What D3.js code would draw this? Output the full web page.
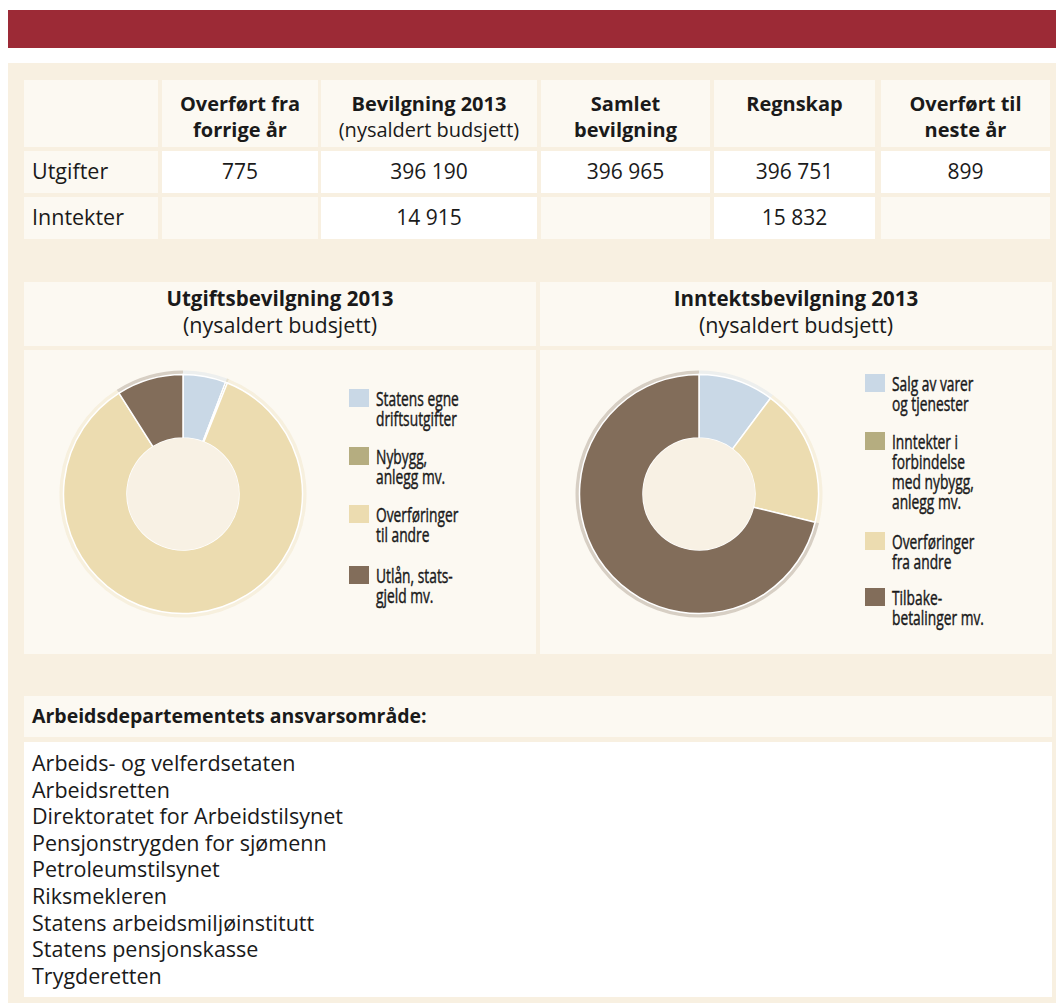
<!DOCTYPE html>
<html>
<head>
<meta charset="utf-8">
<script src="https://cdn.jsdelivr.net/npm/d3@7"></script>
<style>
  body { margin: 0; background: #fff; }
  svg text { fill: #1a1a1a; }
</style>
</head>
<body>
<svg id="chart" width="1056" height="1005"></svg>
<script>
// table data
var colHeads = [[], ["Overført fra", "forrige år"], ["Bevilgning 2013", "(nysaldert budsjett)"],
                ["Samlet", "bevilgning"], ["Regnskap"], ["Overført til", "neste år"]];
var rowLabels = ["Utgifter", "Inntekter"];
var utgifter = ["775", "396 190", "396 965", "396 751", "899"];
var inntekter = ["", "14 915", "", "15 832", ""];

// pie data (share of total)
var utgiftCats = [["Statens egne", "driftsutgifter"], ["Nybygg,", "anlegg mv."],
                  ["Overføringer", "til andre"], ["Utlån, stats-", "gjeld mv."]];
var utgiftValues = [5.8, 0.25, 84.95, 9.0];
var inntektCats = [["Salg av varer", "og tjenester"], ["Inntekter i", "forbindelse", "med nybygg,", "anlegg mv."],
                   ["Overføringer", "fra andre"], ["Tilbake-", "betalinger mv."]];
var inntektValues = [10.2, 0, 18.6, 71.2];

var etater = ["Arbeids- og velferdsetaten", "Arbeidsretten", "Direktoratet for Arbeidstilsynet",
              "Pensjonstrygden for sjømenn", "Petroleumstilsynet", "Riksmekleren",
              "Statens arbeidsmiljøinstitutt", "Statens pensjonskasse", "Trygderetten"];

var sliceColors = ["#c9d8e6", "#b5ad80", "#ecdcb0", "#826d5a"];

var mainFont = "'Open Sans', 'Noto Sans', sans-serif";

var light = "#fcf9f2", beige = "#f8f0e1";

var svg = d3.select("#chart");

// banner and background panel
svg.append("rect").attr("x", 8).attr("y", 10).attr("width", 1048).attr("height", 38).attr("fill", "#9c2a36");
svg.append("rect").attr("x", 8).attr("y", 63).attr("width", 1048).attr("height", 940).attr("fill", beige);

// ---- table ----
var colX = [24, 162, 321, 541, 714, 881],
    colW = [134, 156, 216, 169, 161, 169];

var head = svg.append("g");
colHeads.forEach(function(lines, i) {
    head.append("rect").attr("x", colX[i]).attr("y", 80).attr("width", colW[i]).attr("height", 67).attr("fill", light);
    lines.forEach(function(t, j) {
        head.append("text")
            .attr("x", colX[i] + colW[i] / 2)
            .attr("y", 111 + j * 26)
            .attr("text-anchor", "middle")
            .style("font-family", mainFont)
            .style("font-size", "20px")
            .style("font-weight", (i == 2 && j == 1) ? 400 : 700)
            .text(t);
    });
});

[utgifter, inntekter].forEach(function(vals, r) {
    var y0 = 151 + r * 46;
    var g = svg.append("g");
    g.append("rect").attr("x", colX[0]).attr("y", y0).attr("width", colW[0]).attr("height", 42).attr("fill", light);
    g.append("text").attr("x", 32).attr("y", y0 + 28)
        .style("font-family", mainFont).style("font-size", "21.5px").text(rowLabels[r]);
    vals.forEach(function(v, i) {
        g.append("rect").attr("x", colX[i + 1]).attr("y", y0).attr("width", colW[i + 1]).attr("height", 42)
            .attr("fill", v === "" ? light : "#fff");
        g.append("text").attr("x", colX[i + 1] + colW[i + 1] / 2).attr("y", y0 + 28)
            .attr("text-anchor", "middle")
            .style("font-family", mainFont).style("font-size", "21px").text(v);
    });
});

// ---- donut charts ----
function donut(x0, w, title, cats, values, legendX, legendTops) {
    var g = svg.append("g");
    g.append("rect").attr("x", x0).attr("y", 282).attr("width", w).attr("height", 64).attr("fill", light);
    g.append("rect").attr("x", x0).attr("y", 350).attr("width", w).attr("height", 304).attr("fill", light);
    g.append("text").attr("x", x0 + w / 2).attr("y", 306).attr("text-anchor", "middle")
        .style("font-family", mainFont).style("font-size", "20.5px").style("font-weight", 700).text(title);
    g.append("text").attr("x", x0 + w / 2).attr("y", 333).attr("text-anchor", "middle")
        .style("font-family", mainFont).style("font-size", "21.5px").text("(nysaldert budsjett)");

    var cx = x0 + 159, cy = 494, R = 119.5, r = 56;
    var pie = d3.pie().sort(null).value(function(d) { return d; });
    var arcs = pie(values).filter(function(d) { return d.value > 0; });
    var outer = d3.arc().innerRadius(R - 2).outerRadius(R + 4);
    var arc = d3.arc().innerRadius(r).outerRadius(R);
    var pg = g.append("g").attr("transform", "translate(" + cx + "," + cy + ")");

    // soft halo around the ring
    pg.selectAll("path.halo").data(arcs).enter()
        .append("path").attr("class", "halo")
        .attr("d", outer)
        .attr("fill", function(d) { return sliceColors[d.index]; })
        .attr("opacity", 0.3);
    pg.selectAll("path.slice").data(arcs).enter()
        .append("path").attr("class", "slice")
        .attr("d", arc)
        .attr("fill", function(d) { return sliceColors[d.index]; })
        .attr("stroke", "#fff").attr("stroke-width", 1.5);
    pg.append("circle").attr("r", r).attr("fill", "#f8f1e4");

    // legend (condensed look via horizontal squeeze), one text per entry
    cats.forEach(function(lines, i) {
        var top = legendTops[i];
        g.append("rect").attr("x", legendX).attr("y", top).attr("width", 20).attr("height", 18)
            .attr("fill", sliceColors[i]);
        var txt = g.append("text")
            .attr("transform", "translate(" + (legendX + 27) + "," + (top + 17) + ") scale(0.69,1)")
            .style("font-family", mainFont).style("font-size", "20px")
            .style("stroke", "#1a1a1a").style("stroke-width", 0.45);
        lines.forEach(function(t, j) {
            txt.append("tspan").attr("x", 0).attr("dy", j == 0 ? 0 : 20).text(t);
        });
    });
}

donut(24, 512, "Utgiftsbevilgning 2013", utgiftCats, utgiftValues, 349, [389, 447, 505, 566]);
donut(540, 512, "Inntektsbevilgning 2013", inntektCats, inntektValues, 865, [374, 432, 532, 588]);

// ---- ansvarsområde ----
svg.append("rect").attr("x", 24).attr("y", 696).attr("width", 1028).attr("height", 41).attr("fill", light);
svg.append("text").attr("x", 32).attr("y", 723)
    .style("font-family", mainFont).style("font-size", "19.5px").style("font-weight", 700)
    .text("Arbeidsdepartementets ansvarsområde:");
svg.append("rect").attr("x", 24).attr("y", 742).attr("width", 1028).attr("height", 255).attr("fill", "#fff");
svg.append("g").selectAll("text").data(etater).enter().append("text")
    .attr("x", 32)
    .attr("y", function(d, i) { return 771 + i * 26.6; })
    .style("font-family", mainFont).style("font-size", "21.5px")
    .text(function(d) { return d; });
</script>
</body>
</html>
